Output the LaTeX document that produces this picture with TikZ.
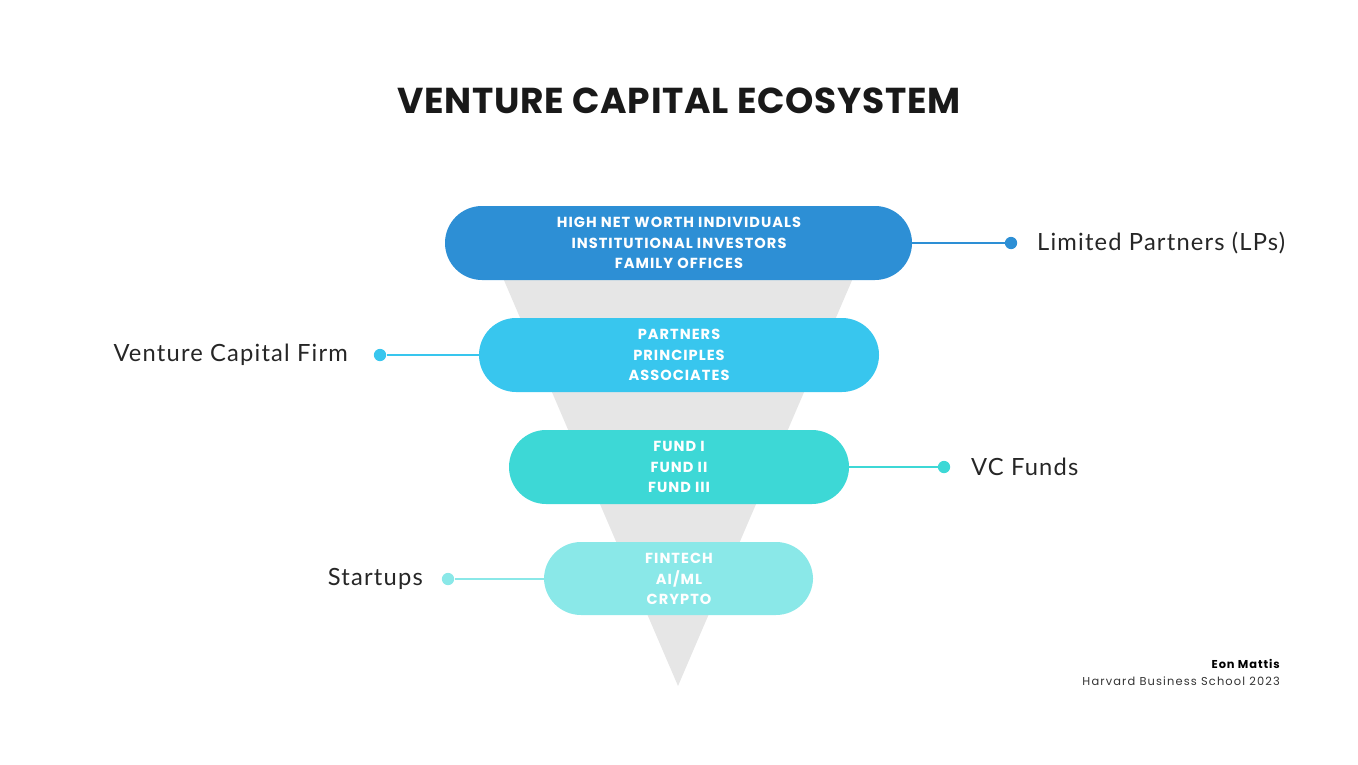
\documentclass[tikz,border=0pt]{standalone}
\usepackage{fontspec}
\setmainfont{Poppins}
\newfontfamily\lab{Lato}
\definecolor{c1}{HTML}{2D8FD5}
\definecolor{c2}{HTML}{38C6EE}
\definecolor{c3}{HTML}{3DD8D6}
\definecolor{c4}{HTML}{8AE8E8}
\definecolor{tri}{HTML}{E6E6E6}
\begin{document}
\begin{tikzpicture}[x=0.02cm,y=-0.02cm,
  lbl/.style={font=\lab\fontsize{13.5}{15}\selectfont\addfontfeature{LetterSpace=5}, text=black!85},
  dot/.style={circle, inner sep=0pt, minimum size=7pt},
  rr/.style={rounded corners=37*0.02cm},
  tx/.style={text=white, font=\fontsize{8.3}{11.5}\selectfont\bfseries\addfontfeature{LetterSpace=7}, align=center}]
\useasboundingbox (0,0) rectangle (1358,764);
\fill[tri] (488,243) -- (868,243) -- (678,686) -- cycle;
\node[font=\fontsize{20.5}{24}\selectfont\bfseries\addfontfeature{LetterSpace=2}, text=black!90] (title) at (679,101) {VENTURE CAPITAL ECOSYSTEM};
\fill[c1,rr] (445,206) rectangle (912,280);
\fill[c2,rr] (479,318) rectangle (879,392);
\fill[c3,rr] (509,430) rectangle (849,504);
\fill[c4,rr] (544,542) rectangle (813,615);
\node[tx] (p1) at (679,243) {HIGH NET WORTH INDIVIDUALS\\INSTITUTIONAL INVESTORS\\FAMILY OFFICES};
\node[tx] (p2) at (679,355) {PARTNERS\\PRINCIPLES\\ASSOCIATES};
\node[tx] (p3) at (679,467) {FUND I\\FUND II\\FUND III};
\node[tx] (p4) at (679,579) {FINTECH\\AI/ML\\CRYPTO};
\coordinate (e1) at (912,243); \coordinate (e2) at (479,355);
\coordinate (e3) at (849,467); \coordinate (e4) at (544,579);
\node[dot,fill=c1] (d1) at (1011,243) {};
\node[dot,fill=c2] (d2) at (380,355) {};
\node[dot,fill=c3] (d3) at (944,467) {};
\node[dot,fill=c4] (d4) at (448,579) {};
\draw[c1,line width=0.8pt] (e1) -- (d1);
\draw[c2,line width=0.8pt] (e2) -- (d2);
\draw[c3,line width=0.8pt] (e3) -- (d3);
\draw[c4,line width=0.8pt] (e4) -- (d4);
\node[lbl,anchor=west] (l1) at (1031,243) {Limited Partners (LPs)};
\node[lbl,anchor=east] (l2) at (354,355) {Venture Capital Firm};
\node[lbl,anchor=west] (l3) at (965,467) {VC Funds};
\node[lbl,anchor=east] (l4) at (429,579) {Startups};
\node[anchor=east, font=\fontsize{6.5}{8}\selectfont\bfseries\addfontfeature{LetterSpace=8}] (a1) at (1286,664) {Eon Mattis};
\node[anchor=east, font=\fontsize{6.5}{8}\selectfont\addfontfeature{LetterSpace=10}, text=black!80] (a2) at (1286,681) {Harvard Business School 2023};
\end{tikzpicture}
\end{document}
